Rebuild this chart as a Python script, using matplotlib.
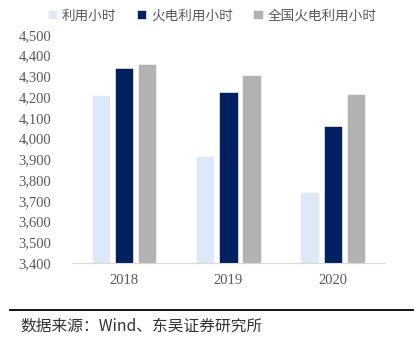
import matplotlib.pyplot as plt
import numpy as np

years = ['2018', '2019', '2020']
use_hours = [4209, 3915, 3743]
thermal_hours = [4341, 4224, 4060]
national_thermal_hours = [4362, 4307, 4217]
series_names = ['利用小时', '火电利用小时', '全国火电利用小时']
colors = ['#DDE9F6', '#002060', '#B2B2B2']

plt.rcParams['font.family'] = ['Noto Sans CJK SC', 'DejaVu Sans']

fig = plt.figure(figsize=(4.16, 3.42), dpi=100)
ax = fig.add_axes([0.173, 0.231, 0.752, 0.667])

x = np.arange(len(years))
w = 0.175
step = 0.222
for i, (vals, name, c) in enumerate(zip([use_hours, thermal_hours, national_thermal_hours], series_names, colors)):
    ax.bar(x + (i - 1) * step, vals, width=w, color=c, label=name, edgecolor='white', linewidth=0.4)

ax.set_xlim(-0.5, 2.5)
ax.set_ylim(3400, 4500)
ax.set_yticks(range(3400, 4501, 100))
ax.set_yticklabels([f'{v:,}' for v in range(3400, 4501, 100)], family='Liberation Serif', fontsize=10.5, color='#595959')
ax.set_xticks(x)
ax.set_xticklabels(years, family='Liberation Serif', fontsize=10.5, color='#595959')
ax.tick_params(length=0, axis='both')
ax.tick_params(axis='y', pad=15)
ax.tick_params(axis='x', pad=8)
for s in ['top', 'right', 'left']:
    ax.spines[s].set_visible(False)
ax.spines['bottom'].set_color('#D9D9D9')

fig.legend(loc='center', bbox_to_anchor=(0.51, 0.955), ncol=3, frameon=False,
           handlelength=0.7, handleheight=0.7, handletextpad=0.35, columnspacing=1.5,
           prop={'size': 9.8}, labelcolor='#595959')

fig.add_artist(plt.Line2D([0.024, 0.993], [0.094, 0.094], color='black', linewidth=1.3))
fig.text(0.048, 0.047, '数据来源：Wind、东吴证券研究所', fontsize=11.3, va='center', ha='left', color='#333333')

fig.savefig('out.png', dpi=100)
